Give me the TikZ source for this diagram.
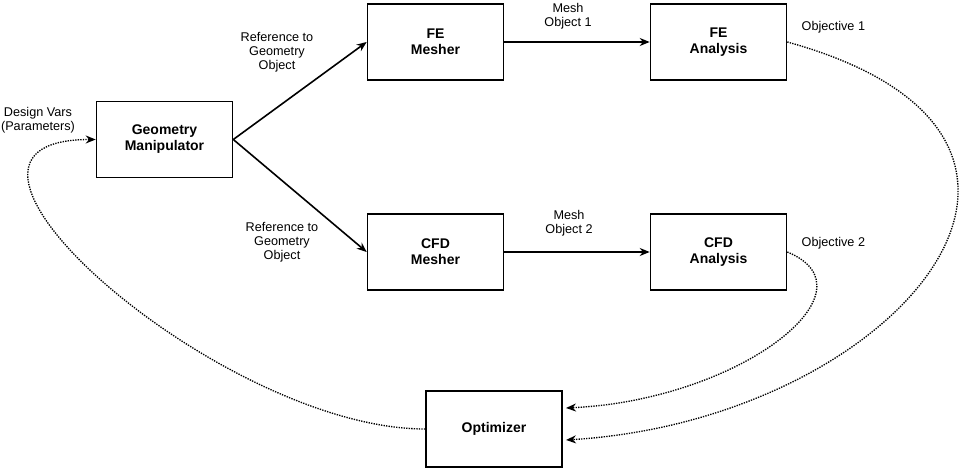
\documentclass[tikz,border=0pt]{standalone}
\usepackage{fontspec}
\setmainfont{Liberation Sans}
\usetikzlibrary{arrows.meta}
\begin{document}
\begin{tikzpicture}[x=0.75pt,y=0.75pt,>={Stealth[length=7.5pt,width=6pt]},
		block/.style={draw,line width=1.2pt,minimum width=102pt,minimum height=57pt,align=center,font=\fontsize{10.5}{12}\selectfont\bfseries},
		note/.style={align=center,font=\fontsize{9.5}{10.5}\selectfont},
		flow/.style={->,line width=1.2pt},
		back/.style={->,line width=1pt,dash pattern=on 1pt off 0.9pt}]
	\useasboundingbox (0,0) rectangle (964,468);
	\node[block] (geom) at (164.5,328.5) {Geometry\\Manipulator};
	\node[block] (femesh) at (435.5,426) {FE\\Mesher};
	\node[block] (fean) at (718.5,426) {FE\\Analysis};
	\node[block] (cfdmesh) at (435.5,216) {CFD\\Mesher};
	\node[block] (cfdan) at (718.5,216) {CFD\\Analysis};
	\node[block] (opt) at (494,39) {Optimizer};
	\coordinate (optin1) at (566,60);
	\coordinate (optin2) at (566,28);
	% labels
	\node[note] (refup) at (277,416) {Reference to\\Geometry\\Object};
	\node[note] (refdn) at (282,226) {Reference to\\Geometry\\Object};
	\node[note] (mesh1) at (568,452) {Mesh\\Object 1};
	\node[note] (mesh2) at (569,245) {Mesh\\Object 2};
	\node[note,anchor=west] (obj1) at (797,441) {Objective 1};
	\node[note,anchor=west] (obj2) at (797,225) {Objective 2};
	\node[note] (dvars) at (38,348) {Design Vars\\(Parameters)};
	% solid links
	\draw[flow] (geom.east) -- (femesh.west);
	\draw[flow] (geom.east) -- (cfdmesh.west);
	\draw[flow] (femesh) -- (fean);
	\draw[flow] (cfdmesh) -- (cfdan);
	% feedback
	\draw[back] (fean.east) .. controls (1135,330) and (895,48) .. (optin2);
	\draw[back] (cfdan.east) .. controls (880,178) and (740,68) .. (optin1);
	\draw[back] (opt.west) .. controls (220,39) and (-110,328.5) .. (geom.west);
\end{tikzpicture}
\end{document}
